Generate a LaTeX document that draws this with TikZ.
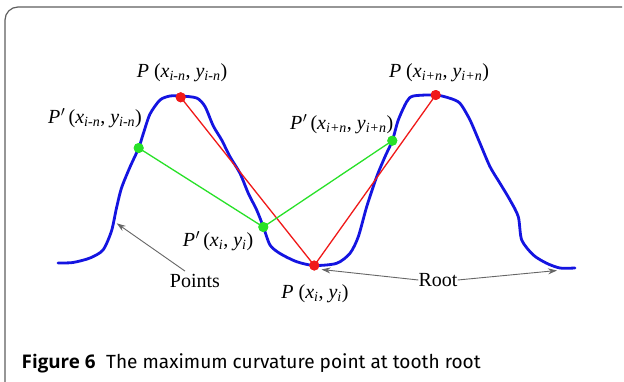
\documentclass[tikz,border=0pt]{standalone}
\usepackage{fontspec}
\usepackage{graphicx}
\setmainfont{Liberation Serif}
\newfontfamily\capfont{Fira Sans}
\newfontfamily\capboldfont{Open Sans}
\definecolor{curveblue}{RGB}{20,20,225}
\definecolor{ptred}{RGB}{240,25,25}
\definecolor{ptgreen}{RGB}{40,225,40}
\definecolor{framegray}{RGB}{95,95,95}
\newcommand{\sbs}[1]{\textsubscript{\textit{#1}}}
\tikzset{
  lbl/.style={font=\fontsize{20}{23}\selectfont, inner sep=0pt},
  reddot/.style={circle, fill=ptred, inner sep=0pt, minimum size=10pt},
  greendot/.style={circle, fill=ptgreen, inner sep=0pt, minimum size=10pt},
  redline/.style={draw=ptred, line width=1.3pt},
  greenline/.style={draw=ptgreen, line width=1.3pt},
  pointer/.style={draw=gray!80!black, line width=0.9pt, -{Stealth[length=9pt,width=6pt]}},
}
\usetikzlibrary{arrows.meta}
\begin{document}
\begin{tikzpicture}[x=1pt,y=-1pt]
\useasboundingbox (0,0) rectangle (624,381);
\fill[white] (0,0) rectangle (624,381);
% frame
\draw[framegray, line width=1.2pt, rounded corners=13pt] (5,385) -- (5,7) -- (622,7);
% curve
\draw[curveblue, line width=2.8pt, line join=round, line cap=round]
  plot[smooth, tension=0.45] coordinates {
  (58,263) (73,262.5) (90,258) (103,250) (111.5,231) (116.5,208) (121.5,188) (130,167) (138.7,148)
  (143.5,133) (150,114) (160,100) (170,96) (180.7,96) (196.7,98) (205,106.5) (213.3,126) (221.7,140)
  (230,156.7) (240,173.3) (248.3,193.3) (256.7,210) (263.3,226.7) (270,245) (280,253.5) (296.7,261.7)
  (314.3,265.5) (336.7,263.3) (350,253.3) (358.3,236.7) (366.7,206.7) (376.7,176.7) (385,156.7)
  (392.3,140.7) (398.3,120) (406.7,101.7) (413.3,96) (435.7,95) (450,98.3) (460,103.3) (470,120)
  (480,143.3) (490,166.7) (500,183.3) (510,200) (518.3,216.7) (521.7,240) (533.3,255) (546.7,263.3)
  (560,268) (575,268)};
% points
\node[reddot] (pin) at (180.7,97.3) {};
\node[reddot] (pi) at (314.3,265.5) {};
\node[reddot] (pip) at (435.7,95) {};
\node[greendot] (qin) at (138.7,148) {};
\node[greendot] (qi) at (263.3,227) {};
\node[greendot] (qip) at (392.3,140.7) {};
% connectors
\draw[redline] (pin.center) -- (pi.center) -- (pip.center);
\draw[greenline] (qin.center) -- (qi.center) -- (qip.center);
\node[reddot] at (pin) {};
\node[reddot] at (pi) {};
\node[reddot] at (pip) {};
\node[greendot] at (qin) {};
\node[greendot] at (qi) {};
\node[greendot] at (qip) {};
% labels
\node[lbl] (lpin) at (182,73) {\textit{P} (\textit{x}\sbs{i-n}, \textit{y}\sbs{i-n})};
\node[lbl] (lpip) at (439,73) {\textit{P} (\textit{x}\sbs{i+n}, \textit{y}\sbs{i+n})};
\node[lbl] (lqin) at (95,118) {\textit{P\kern0.5pt$'$}\,(\textit{x}\sbs{i-n}, \textit{y}\sbs{i-n})};
\node[lbl] (lqip) at (341.7,124) {\textit{P\kern0.5pt$'$}\,(\textit{x}\sbs{i+n}, \textit{y}\sbs{i+n})};
\node[lbl] (lqi) at (218,241) {\textit{P\kern0.5pt$'$}\,(\textit{x}\sbs{i}, \textit{y}\sbs{i})};
\node[lbl] (lpi) at (315,294) {\textit{P} (\textit{x}\sbs{i}, \textit{y}\sbs{i})};
\node[lbl] (points) at (195,281) {Points};
\node[lbl] (root) at (438,280) {Root};
\coordinate (ptarget) at (116.7,223.3);
\coordinate (rtarget) at (557,270.5);
\coordinate (rroot) at (321.5,269.5);
\draw[pointer] (points.north) ++(-10,-3) -- (ptarget);
\draw[pointer] (root.west) -- (rroot);
\draw[pointer] (root.east) -- (rtarget);
% caption
\node[anchor=base west, inner sep=0pt] (capb) at (21.5,368)
  {\capboldfont\bfseries\fontsize{18.8}{21}\selectfont Figure 6};
\node[anchor=base west, inner sep=0pt] (cap) at (106,368)
  {\capfont\fontsize{19.05}{21}\selectfont The maximum curvature point at tooth root};
\end{tikzpicture}
\end{document}
